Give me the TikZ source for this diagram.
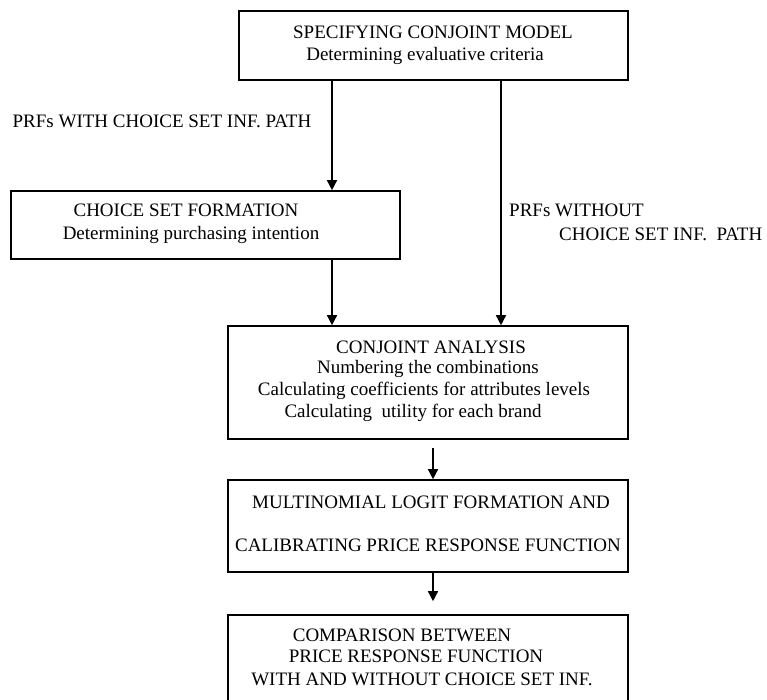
\documentclass[tikz,border=0pt]{standalone}
\usepackage{fontspec}
\setmainfont{Liberation Serif}
\usetikzlibrary{arrows.meta}
\begin{document}
\begin{tikzpicture}[x=1pt,y=-1pt,
  box/.style={draw=black,line width=1.6pt,minimum width=#1,inner sep=0pt},
  txt/.style={inner sep=0pt,font=\fontsize{19}{22}\selectfont},
  arr/.style={line width=1.4pt,-{Triangle[length=10pt,width=10pt]}}]
\clip (0,0) rectangle (767,699);
\useasboundingbox (0,0) rectangle (767,699);
\fill[white] (0,0) rectangle (767,699);
% boxes
\node[box=389pt,minimum height=69pt] (b1) at (433.5,45.5) {};
\node[box=389pt,minimum height=68pt] (b2) at (205.5,225) {};
\node[box=400pt,minimum height=113pt] (b3) at (428,382.5) {};
\node[box=400pt,minimum height=92pt] (b4) at (428,526) {};
\node[box=400pt,minimum height=130pt] (b5) at (428,680) {};
% box texts
\node[txt] (t1a) at (433,32) {SPECIFYING CONJOINT MODEL};
\node[txt] (t1b) at (425,56) {Determining evaluative criteria};
\node[txt] (t2a) at (186,210) {CHOICE SET FORMATION};
\node[txt] (t2b) at (191,235) {Determining purchasing intention};
\node[txt] (t3a) at (431,347) {CONJOINT ANALYSIS};
\node[txt] (t3b) at (428,369) {Numbering the combinations};
\node[txt] (t3c) at (424,391) {Calculating coefficients for attributes levels};
\node[txt] (t3d) at (413,413) {Calculating\ \ utility for each brand};
\node[txt] (t4a) at (431,502) {MULTINOMIAL LOGIT FORMATION AND};
\node[txt] (t4b) at (428,545) {CALIBRATING PRICE RESPONSE FUNCTION};
\node[txt] (t5a) at (402,635) {COMPARISON BETWEEN};
\node[txt] (t5b) at (416,656) {PRICE RESPONSE FUNCTION};
\node[txt] (t5c) at (422,679) {WITH AND WITHOUT CHOICE SET INF.};
% path labels
\node[txt] (l1) at (162,121) {PRFs WITH CHOICE SET INF. PATH};
\node[txt,anchor=west] (l2a) at (509,210) {PRFs WITHOUT};
\node[txt,anchor=west] (l2b) at (559,234) {CHOICE SET INF.\ \ PATH};
% connectors
\coordinate (xl) at (332,0);
\coordinate (xr) at (501,0);
\coordinate (xm) at (433,0);
\draw[arr] (b1.south -| xl) -- (b2.north -| xl);
\draw[arr] (b1.south -| xr) -- (b3.north -| xr);
\draw[arr] (b2.south -| xl) -- (b3.north -| xl);
\draw[arr,shorten <=8pt] (b3.south -| xm) -- (b4.north -| xm);
\draw[arr,shorten >=13pt] (b4.south -| xm) -- (b5.north -| xm);
\end{tikzpicture}
\end{document}
